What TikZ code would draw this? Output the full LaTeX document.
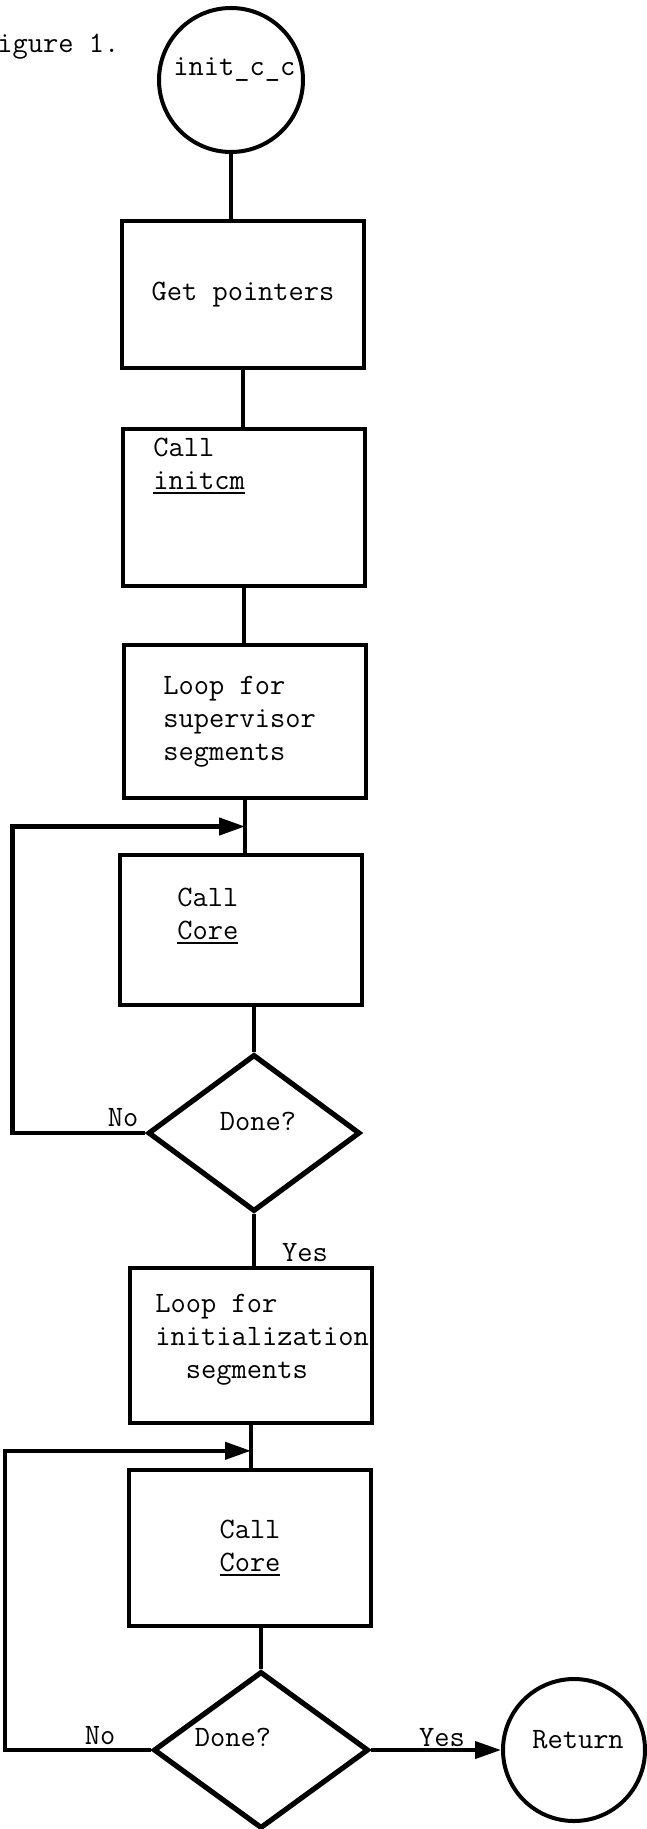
\documentclass[tikz,border=0pt]{standalone}
\usepackage{fontspec}
\usepackage{tikz}
\usetikzlibrary{shapes.geometric, arrows.meta, calc}
\newcommand{\undl}[1]{\vtop{\hbox{#1}\kern1.2pt\hrule height 1.1pt}}

\begin{document}
\begin{tikzpicture}[
        x=0.5pt, y=-0.5pt,
        font=\ttfamily\fontsize{14.8}{16.5}\selectfont,
        stepbox/.style={draw, rectangle, line width=2pt, minimum width=121pt, inner sep=0pt, align=center},
        terminal/.style={draw, circle, line width=2pt, inner sep=0pt},
        decision/.style={draw, diamond, line width=2.6pt, inner sep=0pt},
        txt/.style={inner sep=0pt, align=left},
        flow/.style={line width=2pt},
        loopback/.style={line width=2.2pt, -{Triangle[length=13pt, width=8.5pt]}}
    ]
    \useasboundingbox (0,0) rectangle (647,1829);

    % start
    \node[txt, anchor=west] (fig) at (-3,47) {igure 1.};
    \node[terminal, minimum size=72pt] (c1) at (231,80) {};
    \node[txt, anchor=west] (t0) at (173,70) {init\_c\_c};

    % boxes of the first part
    \node[stepbox, minimum height=73.5pt] (b1) at (243,294.5) {Get pointers};
    \node[stepbox, minimum height=78.5pt] (b2) at (244,507.5) {};
    \node[txt, anchor=west] (t2) at (153,466) {Call\\\undl{initcm}};
    \node[stepbox, minimum height=76.5pt] (b3) at (245,721.5) {};
    \node[txt, anchor=west] (t3) at (163,722) {Loop for\\supervisor\\segments};
    \node[stepbox, minimum height=75pt] (b4) at (241,930) {};
    \node[txt, anchor=west] (t4) at (177,916) {Call\\\undl{Core}};

    % first test
    \node[decision, minimum width=106pt, minimum height=78.5pt] (d1) at (254,1133) {};
    \node[txt] (q1) at (258,1121) {Done?};
    \node[txt] (n1) at (123,1118) {No};
    \node[txt] (y1) at (305,1253) {Yes};

    % second loop
    \node[stepbox, minimum height=77.5pt] (b5) at (251,1345.5) {};
    \node[txt, anchor=west] (t5) at (155,1340) {Loop for\\initialization\\\phantom{in}segments};
    \node[stepbox, minimum height=78pt] (b6) at (250,1548) {Call\\\undl{Core}};

    % second test and end
    \node[decision, minimum width=107.5pt, minimum height=78.5pt] (d2) at (261,1750) {};
    \node[txt] (q2) at (233,1737) {Done?};
    \node[txt] (n2) at (100,1736) {No};
    \node[txt] (y2) at (442,1738) {Yes};
    \node[terminal, minimum size=71pt] (r1) at (574,1750) {};
    \node[txt] (t7) at (578,1740) {Return};

    % connectors
    \draw[flow] (c1.south) -- (c1.south |- b1.north);
    \draw[flow] (b1.south) -- (b1.south |- b2.north);
    \draw[flow] (b2.south) -- (b2.south |- b3.north);
    \draw[flow] (b3.south) -- (b3.south |- b4.north);
    \draw[flow] (d1.north) -- (d1.north |- b4.south);
    \draw[flow] (d1.south) -- (d1.south |- b5.north);
    \draw[flow] (b5.south) -- (b5.south |- b6.north);
    \draw[flow] (d2.north) -- (d2.north |- b6.south);
    \draw[flow, -{Triangle[length=13pt, width=8.5pt]}] (d2.east) -- (r1.west);

    % loop backs
    \coordinate (j1) at ($(b3.south)!0.5!(b3.south |- b4.north)$);
    \draw[loopback] (d1.west) -- ++(-133,0) |- (j1);
    \coordinate (j2) at ($(b5.south)!0.6!(b5.south |- b6.north)$);
    \draw[loopback] (d2.west) -- ++(-146,0) |- (j2);
\end{tikzpicture}
\end{document}
